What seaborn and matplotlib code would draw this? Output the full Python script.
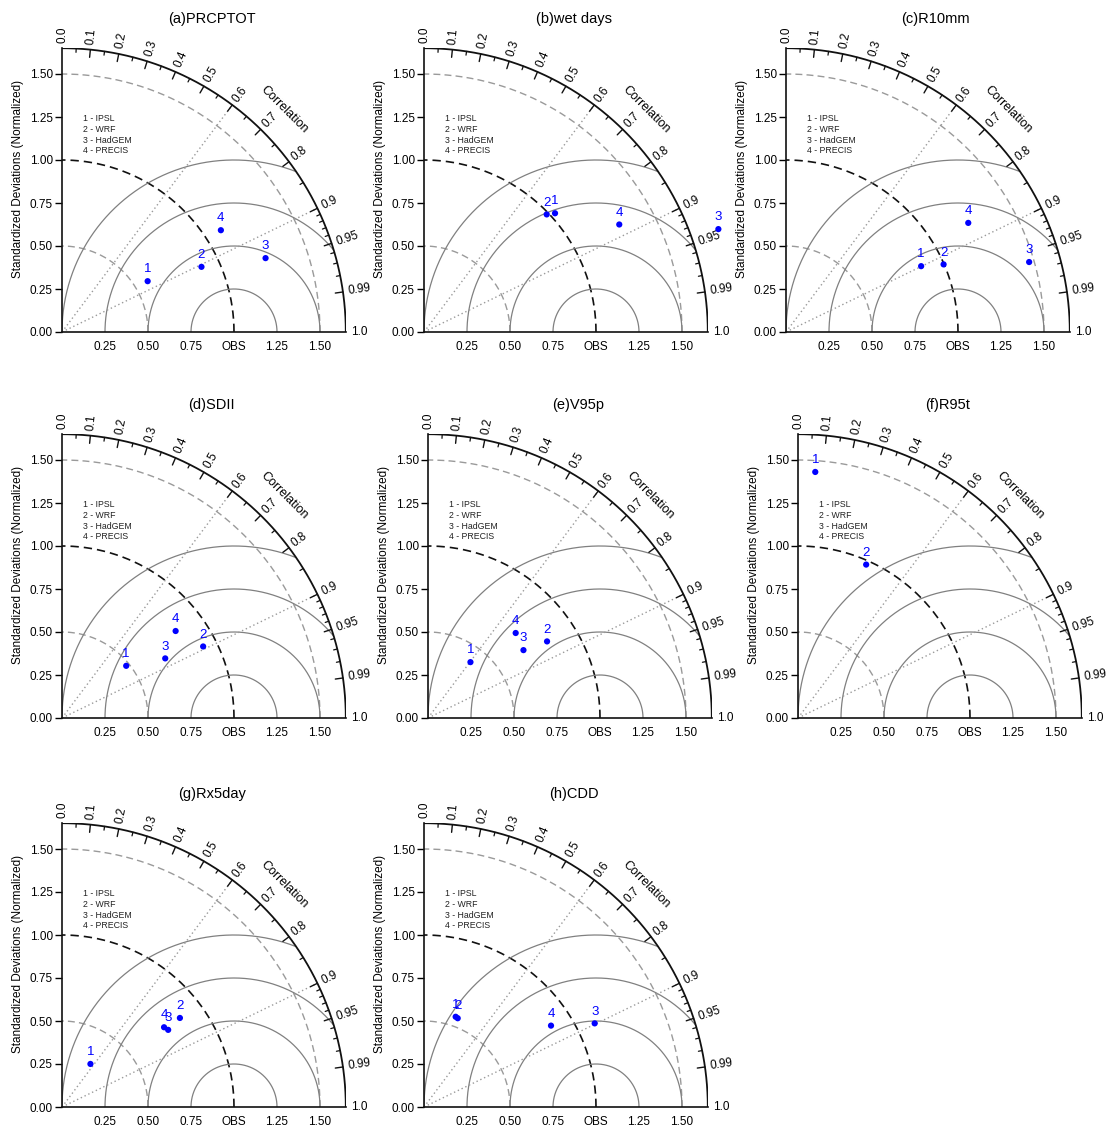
import numpy as np
import pandas as pd
import matplotlib
matplotlib.use("Agg")
import matplotlib.pyplot as plt
import seaborn as sns

sns.set_theme(style="white")
plt.rcParams["font.family"] = ["Liberation Sans", "DejaVu Sans"]
plt.rcParams["text.color"] = "black"
plt.rcParams["xtick.color"] = "black"
plt.rcParams["ytick.color"] = "black"
plt.rcParams["axes.labelcolor"] = "black"

titles = ["(a)PRCPTOT", "(b)wet days", "(c)R10mm", "(d)SDII",
          "(e)V95p", "(f)R95t", "(g)Rx5day", "(h)CDD"]
models = ["IPSL", "WRF", "HadGEM", "PRECIS"]
model_ids = ["1", "2", "3", "4"]

# normalized standard deviation, order IPSL, WRF, HadGEM, PRECIS
std_prcptot = [0.579, 0.895, 1.259, 1.097]
std_wetdays = [1.028, 0.988, 1.813, 1.296]
std_r10mm = [0.874, 0.997, 1.471, 1.235]
std_sdii = [0.481, 0.920, 0.693, 0.832]
std_v95p = [0.408, 0.823, 0.681, 0.710]
std_r95t = [1.434, 0.976, np.nan, np.nan]
std_rx5day = [0.300, 0.859, 0.763, 0.753]
std_cdd = [0.556, 0.552, 1.105, 0.877]

# correlation with observations
corr_prcptot = [0.860, 0.906, 0.940, 0.842]
corr_wetdays = [0.741, 0.722, 0.944, 0.876]
corr_r10mm = [0.899, 0.919, 0.961, 0.858]
corr_sdii = [0.776, 0.892, 0.866, 0.794]
corr_v95p = [0.605, 0.841, 0.815, 0.718]
corr_r95t = [0.070, 0.406, np.nan, np.nan]
corr_rx5day = [0.551, 0.798, 0.809, 0.788]
corr_cdd = [0.331, 0.355, 0.898, 0.842]

stds = [std_prcptot, std_wetdays, std_r10mm, std_sdii,
        std_v95p, std_r95t, std_rx5day, std_cdd]
corrs = [corr_prcptot, corr_wetdays, corr_r10mm, corr_sdii,
         corr_v95p, corr_r95t, corr_rx5day, corr_cdd]

corr_major = [0.0, 0.1, 0.2, 0.3, 0.4, 0.5, 0.6, 0.7, 0.8, 0.9, 0.95, 0.99, 1.0]
corr_labels = ["0.0", "0.1", "0.2", "0.3", "0.4", "0.5", "0.6", "0.7", "0.8",
               "0.9", "0.95", "0.99", "1.0"]
corr_minor = [0.05, 0.15, 0.25, 0.35, 0.45, 0.55, 0.65, 0.75, 0.85,
              0.91, 0.92, 0.93, 0.94, 0.96, 0.97, 0.98]
sd_ticks = [0.0, 0.25, 0.5, 0.75, 1.0, 1.25, 1.5]
x_ticks = [0.25, 0.5, 0.75, 1.0, 1.25, 1.5]
x_labels = ["0.25", "0.50", "0.75", "OBS", "1.25", "1.50"]

W, H = 1107, 1128
rmax = 1.65
ppu = 172.0  # pixels per unit
# origin of every diagram in pixels (from top-left)
origins = [(62, 332), (424, 332), (786, 332),
           (62, 718), (428, 718), (798, 718),
           (62, 1107), (424, 1107)]

fig = plt.figure(figsize=(W / 100, H / 100), dpi=100)


def taylor(ax, title, std, corr):
    t = np.linspace(0, np.pi / 2, 300)
    ax.plot(rmax * np.cos(t), rmax * np.sin(t), color="#111111", lw=1.3, zorder=3)
    for r, col, lw in [(0.5, "#9a9a9a", 1.0), (1.0, "#111111", 1.2), (1.5, "#9a9a9a", 1.0)]:
        ax.plot(r * np.cos(t), r * np.sin(t), color=col, lw=lw, ls=(0, (5, 3)))
    tt = np.linspace(0, np.pi, 500)
    for r in [0.25, 0.5, 0.75, 1.0]:
        x = 1 + r * np.cos(tt)
        y = r * np.sin(tt)
        m = x ** 2 + y ** 2 <= rmax ** 2
        ax.plot(x[m], y[m], color="#808080", lw=0.9)
    for c in [0.6, 0.9]:
        a = np.arccos(c)
        ax.plot([0, rmax * np.cos(a)], [0, rmax * np.sin(a)],
                color="#9a9a9a", lw=1.0, ls=(0, (1, 2)))

    # correlation ticks on the outer arc
    for c in corr_major[1:-1]:
        a = np.arccos(c)
        ax.plot([rmax * np.cos(a), (rmax - 0.045) * np.cos(a)],
                [rmax * np.sin(a), (rmax - 0.045) * np.sin(a)], color="#111111", lw=1.0)
    for c in corr_minor:
        a = np.arccos(c)
        ax.plot([rmax * np.cos(a), (rmax - 0.022) * np.cos(a)],
                [rmax * np.sin(a), (rmax - 0.022) * np.sin(a)], color="#111111", lw=0.9)
    for c, lab in zip(corr_major, corr_labels):
        a = np.arccos(c)
        ax.text((rmax + 0.03) * np.cos(a), (rmax + 0.03) * np.sin(a), lab,
                rotation=np.degrees(a), rotation_mode="anchor",
                ha="left", va="center", fontsize=8.5, clip_on=False)
    a = np.radians(45)
    ax.text(1.83 * np.cos(a), 1.83 * np.sin(a), "Correlation", rotation=-45,
            ha="center", va="center", fontsize=9, rotation_mode="anchor")

    # model legend
    for i, (mid, name) in enumerate(zip(model_ids, models)):
        ax.text(0.12, 1.24 - i * 0.062, f"{mid} - {name}", fontsize=6.3,
                ha="left", va="center", color="#222222")

    # model points
    df = pd.DataFrame({"id": model_ids, "std": std, "corr": corr}).dropna()
    df["x"] = df["std"] * df["corr"]
    df["y"] = df["std"] * np.sqrt(1 - df["corr"] ** 2)
    sns.scatterplot(data=df, x="x", y="y", color="blue", s=20, edgecolor="none",
                    ax=ax, clip_on=False, zorder=6, legend=False)
    for _, row in df.iterrows():
        ax.annotate(row["id"], (row["x"], row["y"]), xytext=(0, 8.5),
                    textcoords="offset points", ha="center", va="center",
                    color="blue", fontsize=9.5, annotation_clip=False, zorder=7)

    ax.text(0.87, 1.82, title, ha="center", va="center", fontsize=10.5)

    ax.set_xlim(0, rmax)
    ax.set_ylim(0, rmax)
    ax.set_yticks(sd_ticks)
    ax.set_yticklabels([f"{v:.2f}" for v in sd_ticks])
    ax.set_xticks(x_ticks)
    ax.set_xticklabels(x_labels)
    ax.tick_params(axis="y", left=True, direction="out", length=5, width=1,
                   pad=1.5, labelsize=8.5)
    ax.tick_params(axis="x", bottom=True, length=0, pad=6.5, labelsize=8.5)
    ax.set_xlabel("")
    ax.set_ylabel("Standardized Deviations (Normalized)", fontsize=8.5)
    ax.yaxis.set_label_coords(-0.134, 0.54)
    for s in ["top", "right"]:
        ax.spines[s].set_visible(False)
    for s in ["left", "bottom"]:
        ax.spines[s].set_color("#111111")
        ax.spines[s].set_linewidth(1.2)
    ax.set_facecolor("none")


for k, (ox, oy) in enumerate(origins):
    size = rmax * ppu
    ax = fig.add_axes([ox / W, (H - oy) / H, size / W, size / H])
    taylor(ax, titles[k], stds[k], corrs[k])

fig.savefig("out.png", dpi=100, facecolor="white")
